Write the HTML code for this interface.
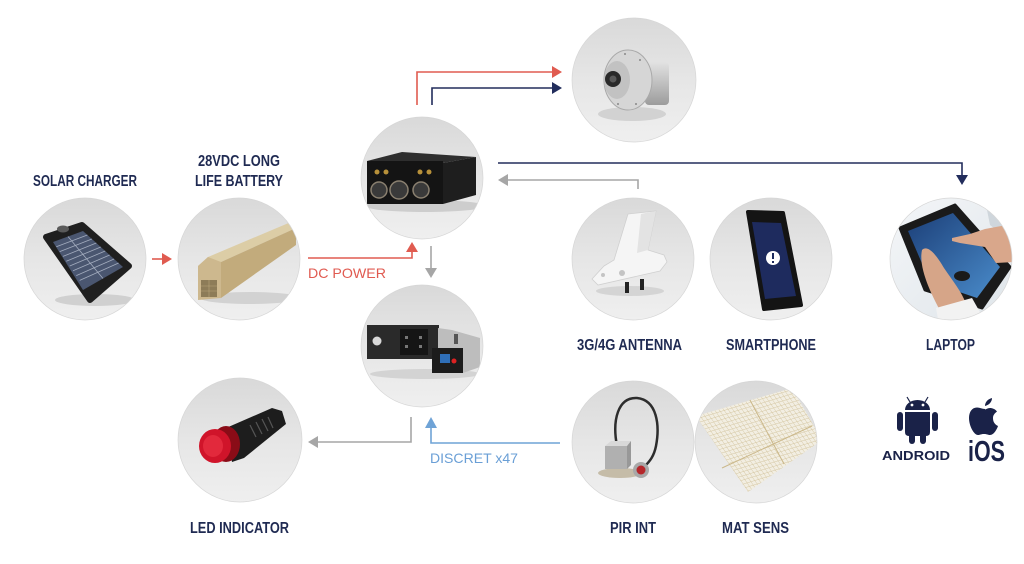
<!DOCTYPE html>
<html><head><meta charset="utf-8"><style>
html,body{margin:0;padding:0;background:#fff;}
svg{display:block;}
.l{font-family:"Liberation Sans",Arial,sans-serif;font-weight:bold;font-size:15.5px;fill:#1f2a52;}
.t{font-family:"Liberation Sans",Arial,sans-serif;font-size:14px;}
</style></head><body>
<svg width="1024" height="564" viewBox="0 0 1024 564" xmlns="http://www.w3.org/2000/svg">
<defs>
<linearGradient id="cg" x1="0" y1="0" x2="0" y2="1">
<stop offset="0" stop-color="#d9d9d9"/><stop offset="0.5" stop-color="#e6e6e6"/><stop offset="1" stop-color="#efefef"/>
</linearGradient>
<linearGradient id="silv" x1="0" y1="0" x2="0" y2="1">
<stop offset="0" stop-color="#e2e2e2"/><stop offset="1" stop-color="#9c9c9c"/>
</linearGradient>
<linearGradient id="scr" x1="0" y1="0" x2="1" y2="1">
<stop offset="0" stop-color="#1c3f78"/><stop offset="1" stop-color="#4a8ccb"/>
</linearGradient>
<linearGradient id="tb" x1="0" y1="0" x2="1" y2="1">
<stop offset="0" stop-color="#f4f6f8"/><stop offset="1" stop-color="#dfe5ea"/>
</linearGradient>
<pattern id="grid" width="4" height="4" patternUnits="userSpaceOnUse" patternTransform="rotate(-17) skewX(18)">
<rect width="4" height="4" fill="#f2eee2"/><path d="M0,0H4M0,0V4" stroke="#d2c39c" stroke-width="0.8"/>
</pattern>
<clipPath id="k1"><circle cx="85" cy="259" r="61"/></clipPath>
<clipPath id="k2"><circle cx="239" cy="259" r="61"/></clipPath>
<clipPath id="k3"><circle cx="422" cy="178" r="61"/></clipPath>
<clipPath id="k4"><circle cx="634" cy="80" r="62"/></clipPath>
<clipPath id="k5"><circle cx="422" cy="346" r="61"/></clipPath>
<clipPath id="k6"><circle cx="240" cy="440" r="62"/></clipPath>
<clipPath id="k7"><circle cx="633" cy="259" r="61"/></clipPath>
<clipPath id="k8"><circle cx="771" cy="259" r="61"/></clipPath>
<clipPath id="k9"><circle cx="951" cy="259" r="61"/></clipPath>
<clipPath id="k10"><circle cx="633" cy="442" r="61"/></clipPath>
<clipPath id="k11"><circle cx="756" cy="442" r="61"/></clipPath>
</defs>

<!-- ARROWS -->
<g fill="none" stroke-width="1.6">
<line x1="152" y1="259" x2="163" y2="259" stroke="#e05b50"/>
<polyline points="308,258 412,258 412,251" stroke="#e05b50"/>
<line x1="431" y1="246" x2="431" y2="269" stroke="#a6a6a6"/>
<polyline points="417,105 417,72 553,72" stroke="#e05b50"/>
<polyline points="432,105 432,88 553,88" stroke="#222d5c"/>
<polyline points="498,163 962,163 962,176" stroke="#222d5c"/>
<polyline points="638,189 638,180 507,180" stroke="#a6a6a6"/>
<polyline points="411,417 411,442 318,442" stroke="#a6a6a6"/>
<polyline points="560,443 431,443 431,427" stroke="#6fa3d6"/>
</g>
<polygon points="162,253 172,259 162,265" fill="#e05b50"/>
<polygon points="406,252 412,242 418,252" fill="#e05b50"/>
<polygon points="425,268 431,278 437,268" fill="#a6a6a6"/>
<polygon points="552,66 562,72 552,78" fill="#e05b50"/>
<polygon points="552,82 562,88 552,94" fill="#222d5c"/>
<polygon points="956,175 962,185 968,175" fill="#222d5c"/>
<polygon points="508,174 498,180 508,186" fill="#a6a6a6"/>
<polygon points="318,436 308,442 318,448" fill="#a6a6a6"/>
<polygon points="425,428 431,417 437,428" fill="#6fa3d6"/>

<!-- SOLAR -->
<g clip-path="url(#k1)">
<circle cx="85" cy="259" r="61" fill="url(#cg)"/>
<ellipse cx="95" cy="300" rx="40" ry="6" fill="#d0d0d0"/>
<polygon points="46,237 82,225 129,266 90,300" fill="#1f1f1f" stroke="#1f1f1f" stroke-width="6" stroke-linejoin="round"/>
<ellipse cx="63" cy="229" rx="6" ry="3.5" fill="#5a5a5a"/>
<polygon points="53,242 83,231 123,267 83,290" fill="#4a5670"/>
<g stroke="#a4adbf" stroke-width="0.8">
<line x1="68" y1="236.5" x2="103" y2="278.5"/>
<line x1="56.3" y1="246.8" x2="87.4" y2="235"/>
<line x1="59.7" y1="251.6" x2="91.9" y2="239"/>
<line x1="63" y1="256.4" x2="96.3" y2="243"/>
<line x1="66.3" y1="261.2" x2="100.8" y2="247"/>
<line x1="69.7" y1="266" x2="105.2" y2="251"/>
<line x1="73" y1="270.8" x2="109.7" y2="255"/>
<line x1="76.3" y1="275.6" x2="114.1" y2="259"/>
<line x1="79.7" y1="280.4" x2="118.6" y2="263"/>
</g>
</g>

<!-- BATTERY -->
<g clip-path="url(#k2)">
<circle cx="239" cy="259" r="61" fill="url(#cg)"/>
<ellipse cx="250" cy="298" rx="50" ry="6" fill="#d2d2d2"/>
<polygon points="198,266 208,257 291,222 296,228 221,262" fill="#dccda6"/>
<polygon points="221,262 296,228 296,245 221,298" fill="#c2ab7c"/>
<polygon points="198,266 208,257 221,262 221,298 198,300" fill="#cdb88e"/>
<rect x="201" y="280" width="16" height="17" fill="#8d7c58"/>
<g stroke="#b9a57a" stroke-width="0.6"><line x1="201" y1="286" x2="217" y2="286"/><line x1="201" y1="291" x2="217" y2="291"/><line x1="209" y1="280" x2="209" y2="297"/></g>
</g>

<!-- CONTROL BOX -->
<g clip-path="url(#k3)">
<circle cx="422" cy="178" r="61" fill="url(#cg)"/>
<ellipse cx="425" cy="206" rx="60" ry="6" fill="#cdcdcd"/>
<polygon points="367,161 402,152 476,157 443,163" fill="#2e2e2e"/>
<polygon points="443,163 476,157 476,195 443,204" fill="#1e1e1e"/>
<rect x="367" y="161" width="76" height="43" fill="#141414"/>
<g fill="#b8913a"><circle cx="377" cy="172" r="2.5"/><circle cx="386" cy="172" r="2.5"/><circle cx="420" cy="172" r="2.5"/><circle cx="429" cy="172" r="2.5"/></g>
<g stroke="#8a8070" stroke-width="1.5"><circle cx="379" cy="190" r="8" fill="#3a3a3a"/><circle cx="399" cy="190" r="9" fill="#3a3a3a"/><circle cx="421" cy="190" r="8" fill="#3a3a3a"/></g>
</g>

<!-- CAMERA -->
<g clip-path="url(#k4)">
<circle cx="634" cy="80" r="62" fill="url(#cg)"/>
<ellipse cx="632" cy="114" rx="34" ry="7" fill="#d2d2d2"/>
<rect x="645" y="62" width="24" height="43" rx="4" fill="url(#silv)"/>
<ellipse cx="628" cy="80" rx="24" ry="30" fill="#d6d6d6" stroke="#a9a9a9" stroke-width="1"/>
<ellipse cx="617" cy="80" rx="13" ry="19" fill="#c2c2c2"/>
<circle cx="613" cy="79" r="8" fill="#2a2a2a"/>
<circle cx="613" cy="79" r="3.5" fill="#5a5a5a"/>
<g fill="#888"><circle cx="625" cy="54" r="1"/><circle cx="640" cy="60" r="1"/><circle cx="618" cy="104" r="1"/><circle cx="636" cy="104" r="1"/></g>
</g>

<!-- PANEL -->
<g clip-path="url(#k5)">
<circle cx="422" cy="346" r="61" fill="url(#cg)"/>
<ellipse cx="425" cy="374" rx="55" ry="5" fill="#d3d3d3"/>
<rect x="367" y="325" width="72" height="34" fill="#2a2a2a"/>
<circle cx="377" cy="341" r="4.5" fill="#d8d8d8"/>
<rect x="400" y="329" width="28" height="26" fill="#151515"/>
<g fill="#777"><rect x="405" y="336" width="3" height="3"/><rect x="419" y="336" width="3" height="3"/><rect x="405" y="345" width="3" height="3"/><rect x="419" y="345" width="3" height="3"/></g>
<polygon points="438,328 452,330 480,338 480,367 463,373 438,360" fill="#bdbdbd"/>
<rect x="454" y="334" width="4" height="10" fill="#555"/>
<rect x="432" y="348" width="31" height="25" fill="#1c1c1c"/>
<rect x="440" y="354" width="10" height="9" fill="#2f6fb8"/>
<circle cx="454" cy="361" r="2.5" fill="#d22"/>
</g>

<!-- LED -->
<g clip-path="url(#k6)">
<circle cx="240" cy="440" r="62" fill="url(#cg)"/>
<polygon points="226,428 272,408 282,411 286,424 244,458 232,462" fill="#1d1d1d"/>
<g stroke="#555" stroke-width="1.2"><line x1="250" y1="425" x2="256" y2="437"/><line x1="256" y1="422" x2="262" y2="434"/><line x1="262" y1="419" x2="268" y2="431"/><line x1="268" y1="417" x2="273" y2="428"/></g>
<ellipse cx="226" cy="444" rx="14" ry="18" fill="#8a0c17"/>
<ellipse cx="215" cy="446" rx="16" ry="17" fill="#d0142a"/>
<ellipse cx="213" cy="446" rx="10" ry="11" fill="#e2293c"/>
</g>

<!-- ANTENNA -->
<g clip-path="url(#k7)">
<circle cx="633" cy="259" r="61" fill="url(#cg)"/>
<ellipse cx="630" cy="291" rx="34" ry="5" fill="#d4d4d4"/>
<rect x="625" y="282" width="4" height="11" fill="#222"/>
<rect x="640" y="279" width="4" height="11" fill="#222"/>
<polygon points="628,214 656,211 648,250 664,255 667,262 660,271 598,285 592,279 604,266 614,260" fill="#f5f5f5" stroke="#d0d0d0" stroke-width="0.8"/>
<polygon points="641,214 656,211 648,250 637,253" fill="#e3e3e3"/>
<circle cx="603" cy="275" r="2" fill="#c4c4c4"/><circle cx="622" cy="273" r="3" fill="#c4c4c4"/>
</g>

<!-- PHONE -->
<g clip-path="url(#k8)">
<circle cx="771" cy="259" r="61" fill="url(#cg)"/>
<polygon points="748,212 783,213 801,305 764,309" fill="#141414" stroke="#141414" stroke-width="4" stroke-linejoin="round"/>
<polygon points="752,222 781,223 796,296 765,299" fill="#1e2b5e"/>
<circle cx="773" cy="258" r="7" fill="#fff"/>
<rect x="772" y="253" width="2" height="6" fill="#1e2b5e"/><rect x="772" y="261" width="2" height="2" fill="#1e2b5e"/>
</g>

<!-- TABLET -->
<g clip-path="url(#k9)">
<circle cx="951" cy="259" r="61" fill="url(#tb)"/>
<polygon points="985,200 1015,215 1015,245 990,225" fill="#cfd6dc"/>
<polygon points="900,228 955,205 1010,267 982,308 925,290" fill="#1a1a1a" stroke="#1a1a1a" stroke-width="3" stroke-linejoin="round"/>
<polygon points="908,231 953,213 1000,267 977,298 930,282" fill="url(#scr)"/>
<polygon points="952,238 970,234 985,229 1012,224 1014,262 996,263 985,247 960,243 952,241" fill="#d9a78b"/>
<path d="M922,250 C928,244 937,256 944,268 C952,280 962,292 966,304 L942,314 C932,296 918,268 922,250 Z" fill="#d6a588"/>
<polygon points="936,308 972,298 990,330 940,330" fill="#f2f2f2"/>
<ellipse cx="962" cy="276" rx="8" ry="5" fill="#1a1a1a"/>
</g>

<!-- PIR -->
<g clip-path="url(#k10)">
<circle cx="633" cy="442" r="61" fill="url(#cg)"/>
<ellipse cx="620" cy="473" rx="22" ry="5" fill="#c5bca8"/>
<path d="M617,446 C612,420 618,397 637,398 C657,400 660,425 656,446 C654,456 650,461 645,466" stroke="#2d2d2d" stroke-width="2.5" fill="none"/>
<polygon points="605,446 611,441 631,441 627,446" fill="#d8d8d8"/>
<rect x="605" y="446" width="22" height="23" fill="#b0b0b0"/>
<polygon points="627,446 631,441 631,465 627,469" fill="#989898"/>
<circle cx="641" cy="470" r="8" fill="#a8a8a8"/>
<circle cx="641" cy="470" r="4.5" fill="#b5262a"/>
</g>

<!-- MAT -->
<g clip-path="url(#k11)">
<circle cx="756" cy="442" r="61" fill="url(#cg)"/>
<polygon points="696,416 792,388 822,440 748,492" fill="url(#grid)"/>
<g stroke="#cbb88a" stroke-width="1" fill="none">
<line x1="750" y1="400" x2="784" y2="464"/>
<line x1="722" y1="468" x2="812" y2="426"/>
</g>
</g>

<g fill="none" stroke="#d6d6d6" stroke-width="0.7">
<circle cx="85" cy="259" r="61"/><circle cx="239" cy="259" r="61"/><circle cx="422" cy="178" r="61"/><circle cx="634" cy="80" r="62"/><circle cx="422" cy="346" r="61"/><circle cx="240" cy="440" r="62"/><circle cx="633" cy="259" r="61"/><circle cx="771" cy="259" r="61"/><circle cx="951" cy="259" r="61"/><circle cx="633" cy="442" r="61"/><circle cx="756" cy="442" r="61"/>
</g>

<!-- LABELS -->
<text class="l" x="85" y="186" text-anchor="middle" textLength="104" lengthAdjust="spacingAndGlyphs">SOLAR CHARGER</text>
<text class="l" x="239" y="166" text-anchor="middle" textLength="82" lengthAdjust="spacingAndGlyphs">28VDC LONG</text>
<text class="l" x="239" y="186" text-anchor="middle" textLength="88" lengthAdjust="spacingAndGlyphs">LIFE BATTERY</text>
<text class="l" x="239.5" y="533" text-anchor="middle" textLength="99" lengthAdjust="spacingAndGlyphs">LED INDICATOR</text>
<text class="l" x="629.5" y="350" text-anchor="middle" textLength="105" lengthAdjust="spacingAndGlyphs">3G/4G ANTENNA</text>
<text class="l" x="771" y="350" text-anchor="middle" textLength="90" lengthAdjust="spacingAndGlyphs">SMARTPHONE</text>
<text class="l" x="950.5" y="350" text-anchor="middle" textLength="49" lengthAdjust="spacingAndGlyphs">LAPTOP</text>
<text class="l" x="633" y="533" text-anchor="middle" textLength="46" lengthAdjust="spacingAndGlyphs">PIR INT</text>
<text class="l" x="755.5" y="533" text-anchor="middle" textLength="67" lengthAdjust="spacingAndGlyphs">MAT SENS</text>
<text class="t" x="308" y="278" fill="#e05a50" textLength="78" lengthAdjust="spacingAndGlyphs">DC POWER</text>
<text class="t" x="430" y="463" fill="#6a9fd6" textLength="88" lengthAdjust="spacingAndGlyphs">DISCRET x47</text>

<!-- ANDROID -->
<g fill="#1a2248">
<path d="M905,410 A12.5,10 0 0 1 930,410 Z"/>
<line x1="910" y1="402" x2="907" y2="397" stroke="#1a2248" stroke-width="1.2"/>
<line x1="925" y1="402" x2="928" y2="397" stroke="#1a2248" stroke-width="1.2"/>
<path d="M905,412 H930 V432 Q930,436 926,436 H909 Q905,436 905,432 Z"/>
<rect x="897" y="412" width="6" height="19" rx="3"/>
<rect x="932" y="412" width="6" height="19" rx="3"/>
<rect x="909" y="430" width="6" height="14" rx="3"/>
<rect x="920" y="430" width="6" height="14" rx="3"/>
</g>
<circle cx="912" cy="405" r="1.4" fill="#fff"/><circle cx="923" cy="405" r="1.4" fill="#fff"/>
<text x="882" y="460" font-family="Liberation Sans, Arial, sans-serif" font-weight="bold" font-size="12.5" fill="#1a2248" textLength="68" lengthAdjust="spacingAndGlyphs">ANDROID</text>
<!-- APPLE -->
<path fill="#1a2248" d="M985,409 c-3,0 -5,-1.5 -8,-1.5 c-5,0 -8,4.5 -8,10.5 c0,8 5,17 9,17 c2,0 3,-1 6,-1 c3,0 4,1 6,1 c4,0 7,-6 8,-9 c-4,-2 -5,-5 -5,-8 c0,-3 2,-5 4,-6.5 c-2,-2.5 -4.5,-3.5 -7,-3.5 c-2.5,0 -4,1.5 -5,1.5 z M985,406 c0,-4 3,-7 7,-8 c0,4 -3,7 -7,8 z"/>
<text x="968" y="461" font-family="Liberation Sans, Arial, sans-serif" font-weight="bold" font-size="29" fill="#1a2248" textLength="37" lengthAdjust="spacingAndGlyphs">iOS</text>
</svg>
</body></html>
